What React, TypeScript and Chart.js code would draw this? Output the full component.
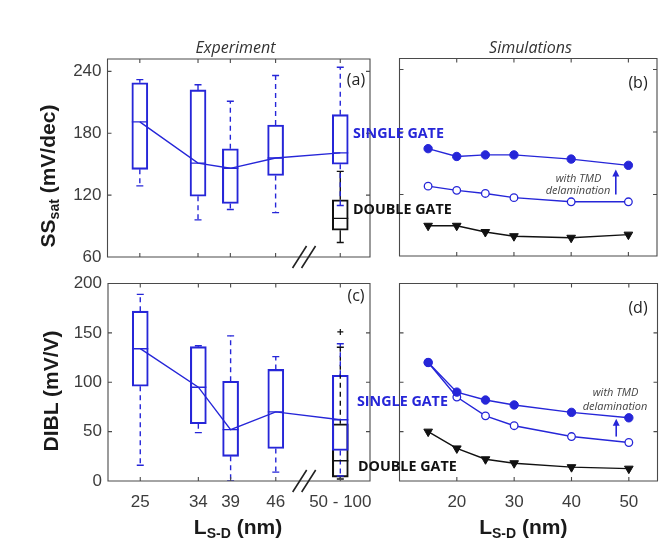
import React, { useEffect, useRef } from 'react';
import { Chart, registerables } from 'chart.js';
Chart.register(...registerables);

const W = 664;
const H = 543;
const BLUE = '#2626d8';
const BLACK = '#111111';
const AXIS = '#4a4a4a';

// ---------- Experiment data (panels a, c) ----------
const expX = [25, 34, 39, 46, 56];
const expTickLabels = ['25', '34', '39', '46', '50 - 100'];
// SS_sat single gate
const ssSgMin = [129, 96, 106, 103, 110];
const ssSgQ1 = [145, 119, 112, 139, 150];
const ssSgMed = [191, 151, 146, 156, 161];
const ssSgQ3 = [229, 222, 165, 188, 198];
const ssSgMax = [232, 227, 211, 236, 244];
// SS_sat double gate
const dgX = [56];
const ssDgMin = [74];
const ssDgQ1 = [86];
const ssDgMed = [97.5];
const ssDgQ3 = [115.5];
const ssDgMax = [143];
// DIBL single gate
const dibSgMin = [16, 49, 0, 9, 5];
const dibSgQ1 = [96, 58, 25, 33, 31];
const dibSgMed = [134, 95, 52, 70, 62];
const dibSgQ3 = [172, 136, 101, 113, 107];
const dibSgMax = [189, 137, 147, 126, 139];
// DIBL double gate
const dibDgMin = [2];
const dibDgQ1 = [4];
const dibDgMed = [20.5];
const dibDgQ3 = [58];
const dibDgMax = [135.5];
const dibDgOutlier = [151];

// ---------- Simulation data (panels b, d) ----------
const simX = [15, 20, 25, 30, 40, 50];
const simTicks = [20, 30, 40, 50];
const ssSimDelam = [164, 156.5, 158, 158, 154, 148];
const ssSimSingle = [128, 124, 121, 117, 113, 113];
const ssSimDouble = [90, 90, 84, 80, 78.5, 81.5];
const dibSimDelam = [120, 90, 82, 77, 69.5, 64];
const dibSimSingle = [120, 85, 66, 56, 45, 39];
const dibSimDouble = [50, 33, 22, 18, 14, 12.5];

const ssTicks = [60, 120, 180, 240];
const dibTicks = [0, 50, 100, 150, 200];

type Rect = { left: number; top: number; right: number; bottom: number };
const RECT_A: Rect = { left: 107.5, top: 59, right: 370, bottom: 257 };
const RECT_B: Rect = { left: 399.5, top: 58.5, right: 657, bottom: 256 };
const RECT_C: Rect = { left: 108, top: 283.5, right: 370, bottom: 481 };
const RECT_D: Rect = { left: 399.5, top: 283.5, right: 657.5, bottom: 481 };

const TICK_FONT = { family: "'Liberation Sans', Arial, sans-serif", size: 17 };

function boxDatasets(xs: number[], mins: number[], q1s: number[], meds: number[], q3s: number[], maxs: number[], color: string, dash: number[], connect: boolean) {
  const lw = 1.4;
  const whiskers = xs.flatMap((x, i) => [
    { x, y: q3s[i] }, { x, y: maxs[i] }, { x, y: null },
    { x, y: q1s[i] }, { x, y: mins[i] }, { x, y: null },
  ]);
  return [
    {
      type: 'bar', data: xs.map((x, i) => ({ x, y: [q1s[i], q3s[i]] })),
      backgroundColor: 'rgba(0,0,0,0)', borderColor: color, borderWidth: lw,
      borderSkipped: false, barThickness: 16, grouped: false, order: 5,
    },
    {
      type: 'line', data: whiskers, borderColor: color, borderWidth: lw, borderDash: dash,
      pointRadius: 0, spanGaps: false, tension: 0, order: 4,
    },
    {
      type: 'line', showLine: false,
      data: xs.flatMap((x, i) => [{ x, y: maxs[i] }, { x, y: mins[i] }]),
      pointStyle: 'line', pointRadius: 3.5, pointBorderColor: color, pointBorderWidth: lw, order: 3,
    },
    {
      type: 'line', data: xs.map((x, i) => ({ x, y: meds[i] })), showLine: connect,
      borderColor: color, borderWidth: lw, tension: 0,
      pointStyle: 'line', pointRadius: 8, pointBorderColor: color, pointBorderWidth: lw, order: 2,
    },
  ];
}

function simDatasets(delam: number[], single: number[], dbl: number[]) {
  return [
    {
      type: 'line', data: simX.map((x, i) => ({ x, y: delam[i] })), borderColor: BLUE, borderWidth: 1.4,
      pointStyle: 'circle', pointRadius: 4.2, pointBackgroundColor: BLUE, pointBorderColor: BLUE, pointBorderWidth: 1,
    },
    {
      type: 'line', data: simX.map((x, i) => ({ x, y: single[i] })), borderColor: BLUE, borderWidth: 1.4,
      pointStyle: 'circle', pointRadius: 3.8, pointBackgroundColor: '#ffffff', pointBorderColor: BLUE, pointBorderWidth: 1.3,
    },
    {
      type: 'line', data: simX.map((x, i) => ({ x, y: dbl[i] })), borderColor: BLACK, borderWidth: 1.4,
      pointStyle: 'triangle', pointRotation: 180, pointRadius: 5, pointBackgroundColor: BLACK, pointBorderColor: BLACK, pointBorderWidth: 1,
    },
  ];
}

const matlabBox = {
  id: 'matlabBox',
  afterDatasetsDraw(chart: any, _args: any, opts: any) {
    const { ctx, chartArea: a, scales } = chart;
    const xs = scales.x;
    const ys = scales.y;
    const TL = 4;
    ctx.save();
    ctx.strokeStyle = AXIS;
    ctx.lineWidth = 1.1;
    ctx.setLineDash([]);
    ctx.beginPath();
    for (const t of xs.ticks) {
      const px = xs.getPixelForValue(t.value);
      if (px <= a.left + 1 || px >= a.right - 1) continue;
      ctx.moveTo(px, a.bottom); ctx.lineTo(px, a.bottom - TL);
      ctx.moveTo(px, a.top); ctx.lineTo(px, a.top + TL);
    }
    for (const t of ys.ticks) {
      const py = ys.getPixelForValue(t.value);
      if (py <= a.top + 1 || py >= a.bottom - 1) continue;
      ctx.moveTo(a.left, py); ctx.lineTo(a.left + TL, py);
      ctx.moveTo(a.right, py); ctx.lineTo(a.right - TL, py);
    }
    ctx.rect(a.left, a.top, a.right - a.left, a.bottom - a.top);
    ctx.stroke();
    if (opts && opts.breakAt != null) {
      const cx = xs.getPixelForValue(opts.breakAt);
      ctx.strokeStyle = '#222';
      ctx.lineWidth = 1.6;
      ctx.beginPath();
      for (const off of [-4.5, 4.5]) {
        ctx.moveTo(cx + off - 7, a.bottom + 11);
        ctx.lineTo(cx + off + 7, a.bottom - 11);
      }
      ctx.stroke();
    }
    if (opts && opts.arrow) {
      const ax = xs.getPixelForValue(opts.arrow.x);
      const y0 = ys.getPixelForValue(opts.arrow.from);
      const y1 = ys.getPixelForValue(opts.arrow.to);
      ctx.strokeStyle = BLUE;
      ctx.fillStyle = BLUE;
      ctx.lineWidth = 1.6;
      ctx.beginPath();
      ctx.moveTo(ax, y0);
      ctx.lineTo(ax, y1 + 5);
      ctx.stroke();
      ctx.beginPath();
      ctx.moveTo(ax, y1);
      ctx.lineTo(ax - 3.5, y1 + 7);
      ctx.lineTo(ax + 3.5, y1 + 7);
      ctx.closePath();
      ctx.fill();
    }
    ctx.restore();
  },
};

type PanelCfg = {
  rect: Rect;
  datasets: any[];
  xMin: number; xMax: number; xTicks: number[]; xLabels: string[] | null;
  yMin: number; yMax: number; yTicks: number[]; showY: boolean;
  extra: any;
};

function buildChart(canvas: HTMLCanvasElement, p: PanelCfg) {
  const yW = p.showY ? 60 : 0;
  const xH = p.xLabels ? 40 : 0;
  return new Chart(canvas, {
    type: 'line',
    data: { datasets: p.datasets as any },
    plugins: [matlabBox as any],
    options: {
      animation: false,
      responsive: false,
      maintainAspectRatio: false,
      events: [],
      layout: {
        autoPadding: false,
        padding: { left: p.rect.left - yW, top: p.rect.top, right: W - p.rect.right, bottom: H - p.rect.bottom - xH },
      },
      plugins: { legend: { display: false }, tooltip: { enabled: false }, matlabBox: p.extra } as any,
      scales: {
        x: {
          type: 'linear', min: p.xMin, max: p.xMax, offset: false,
          grid: { display: false, drawTicks: false }, border: { display: false },
          afterBuildTicks: (s: any) => { s.ticks = p.xTicks.map((v) => ({ value: v })); },
          afterFit: (s: any) => { s.height = xH; },
          ticks: {
            display: !!p.xLabels, autoSkip: false, maxRotation: 0, padding: 11,
            font: TICK_FONT, color: '#3c3c3c',
            callback: (v: any) => (p.xLabels ? p.xLabels[p.xTicks.indexOf(Number(v))] : ''),
          },
        },
        y: {
          type: 'linear', min: p.yMin, max: p.yMax,
          grid: { display: false, drawTicks: false }, border: { display: false },
          afterBuildTicks: (s: any) => { s.ticks = p.yTicks.map((v) => ({ value: v })); },
          afterFit: (s: any) => { s.width = yW; },
          ticks: { display: p.showY, autoSkip: false, padding: 6, font: TICK_FONT, color: '#3c3c3c' },
        },
      } as any,
    },
  });
}

const panelA: PanelCfg = {
  rect: RECT_A,
  datasets: [
    ...boxDatasets(expX, ssSgMin, ssSgQ1, ssSgMed, ssSgQ3, ssSgMax, BLUE, [5, 4], true),
    ...boxDatasets(dgX, ssDgMin, ssDgQ1, ssDgMed, ssDgQ3, ssDgMax, BLACK, [], false),
  ],
  xMin: 20, xMax: 60.6, xTicks: expX, xLabels: null,
  yMin: 60, yMax: 252, yTicks: ssTicks, showY: true,
  extra: { breakAt: 50.4 },
};
const panelB: PanelCfg = {
  rect: RECT_B,
  datasets: simDatasets(ssSimDelam, ssSimSingle, ssSimDouble),
  xMin: 10, xMax: 55, xTicks: simTicks, xLabels: null,
  yMin: 61, yMax: 250.5, yTicks: ssTicks, showY: false,
  extra: { arrow: { x: 47.8, from: 120, to: 144 } },
};
const panelC: PanelCfg = {
  rect: RECT_C,
  datasets: [
    ...boxDatasets(expX, dibSgMin, dibSgQ1, dibSgMed, dibSgQ3, dibSgMax, BLUE, [5, 4], true),
    ...boxDatasets(dgX, dibDgMin, dibDgQ1, dibDgMed, dibDgQ3, dibDgMax, BLACK, [5, 4], false),
    {
      type: 'line', showLine: false, data: dgX.map((x, i) => ({ x, y: dibDgOutlier[i] })),
      pointStyle: 'cross', pointRadius: 3, pointBorderColor: BLACK, pointBorderWidth: 1.2, order: 1,
    },
  ],
  xMin: 20, xMax: 60.6, xTicks: expX, xLabels: expTickLabels,
  yMin: 0, yMax: 200, yTicks: dibTicks, showY: true,
  extra: { breakAt: 50.4 },
};
const panelD: PanelCfg = {
  rect: RECT_D,
  datasets: simDatasets(dibSimDelam, dibSimSingle, dibSimDouble),
  xMin: 10, xMax: 55, xTicks: simTicks, xLabels: simTicks.map(String),
  yMin: 0, yMax: 200, yTicks: dibTicks, showY: false,
  extra: { arrow: { x: 47.8, from: 45, to: 63 } },
};

function Panel({ cfg }: { cfg: PanelCfg }) {
  const ref = useRef<HTMLCanvasElement>(null);
  useEffect(() => {
    const ch = buildChart(ref.current as HTMLCanvasElement, cfg);
    return () => ch.destroy();
  }, []);
  return <canvas ref={ref} width={W} height={H} style={{ position: 'absolute', left: 0, top: 0, width: W, height: H }} />;
}

const OPEN = "'Open Sans', sans-serif";
const ARIAL = "'Liberation Sans', Arial, sans-serif";

function Txt({ x, y, align, style, children }: { x: number; y: number; align: 'left' | 'center'; style?: any; children: any }) {
  return (
    <div
      style={{
        position: 'absolute', left: x, top: y, whiteSpace: 'nowrap', lineHeight: 1,
        transform: align === 'center' ? 'translate(-50%, -50%)' : 'translate(0, -50%)',
        ...style,
      }}
    >
      {children}
    </div>
  );
}

export default function App() {
  const title = { fontFamily: OPEN, fontStyle: 'italic', fontSize: 16, color: '#333' };
  const tag = { fontFamily: OPEN, fontSize: 16, color: '#222' };
  const gate = { fontFamily: OPEN, fontWeight: 700, fontSize: 14.3 };
  const note = { fontFamily: OPEN, fontStyle: 'italic', fontSize: 11, color: '#444' };
  const axisLbl = { fontFamily: ARIAL, fontWeight: 700, fontSize: 21, color: '#1a1a1a' };
  const sub = { fontSize: 14, verticalAlign: '-0.3em' };
  return (
    <div style={{ position: 'absolute', left: 0, top: 0, width: W, height: H, background: '#fff', overflow: 'hidden' }}>
      <Panel cfg={panelA} />
      <Panel cfg={panelB} />
      <Panel cfg={panelC} />
      <Panel cfg={panelD} />
      <Txt x={235.5} y={46.7} align="center" style={title}>Experiment</Txt>
      <Txt x={530.5} y={46.7} align="center" style={title}>Simulations</Txt>
      <Txt x={356} y={79} align="center" style={tag}>(a)</Txt>
      <Txt x={638} y={81.7} align="center" style={tag}>(b)</Txt>
      <Txt x={356} y={295} align="center" style={tag}>(c)</Txt>
      <Txt x={638} y={306.7} align="center" style={tag}>(d)</Txt>
      <Txt x={353} y={133} align="left" style={{ ...gate, color: BLUE }}>SINGLE GATE</Txt>
      <Txt x={353} y={209} align="left" style={{ ...gate, color: BLACK }}>DOUBLE GATE</Txt>
      <Txt x={357} y={400.5} align="left" style={{ ...gate, color: BLUE }}>SINGLE GATE</Txt>
      <Txt x={358} y={465.5} align="left" style={{ ...gate, color: BLACK }}>DOUBLE GATE</Txt>
      <Txt x={578.5} y={176.7} align="center" style={note}>with TMD</Txt>
      <Txt x={578} y={189.3} align="center" style={note}>delamination</Txt>
      <Txt x={615.5} y={390.7} align="center" style={note}>with TMD</Txt>
      <Txt x={615} y={405} align="center" style={note}>delamination</Txt>
      <div style={{ position: 'absolute', left: 48.5, top: 175.5, transform: 'translate(-50%, -50%) rotate(-90deg)', whiteSpace: 'nowrap', lineHeight: 1, ...axisLbl }}>
        SS<span style={sub}>sat</span> (mV/dec)
      </div>
      <div style={{ position: 'absolute', left: 50, top: 391.3, transform: 'translate(-50%, -50%) rotate(-90deg)', whiteSpace: 'nowrap', lineHeight: 1, ...axisLbl }}>
        DIBL (mV/V)
      </div>
      <Txt x={238} y={528} align="center" style={axisLbl}>L<span style={sub}>S-D</span> (nm)</Txt>
      <Txt x={523.3} y={528} align="center" style={axisLbl}>L<span style={sub}>S-D</span> (nm)</Txt>
    </div>
  );
}
